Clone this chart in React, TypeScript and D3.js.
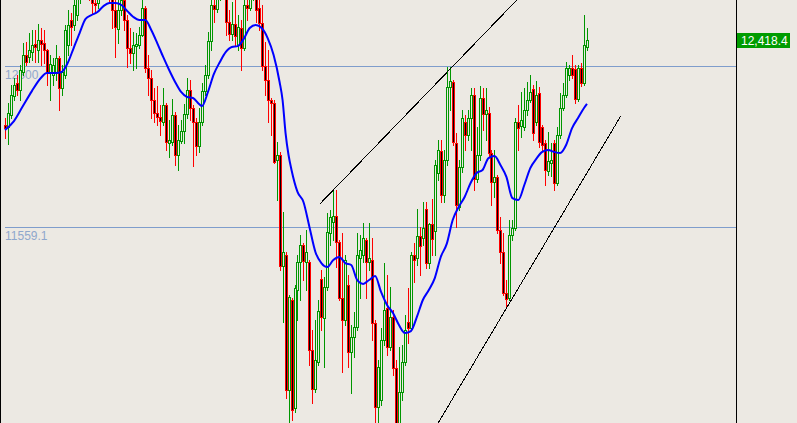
import React from "react";
import * as d3 from "d3";

// ---- Data ----
const openPrices = [
  12029, 12020, 12075, 12162, 12222, 12190, 12273, 12351, 12342, 12365,
  12402, 12374, 12420, 12406, 12374, 12268, 12259, 12268, 12337, 12199,
  12259, 12397, 12512, 12489, 12535, 12627, 12696, 12673, 12742, 12627,
  12590, 12590, 12650, 12719, 12696, 12742, 12627, 12558, 12471, 12558,
  12604, 12512, 12383, 12360, 12392, 12397, 12443, 12567, 12291, 12245,
  12144, 12084, 12066, 12043, 12121, 11946, 11951, 12075, 11891, 11955,
  12001, 12080, 12190, 12107, 12043, 11932, 12043, 12185, 12259, 12415,
  12581, 12563, 12627, 12696, 12641, 12503, 12448, 12494, 12397, 12475,
  12383, 12581, 12567, 12627, 12650, 12567, 12498, 12300, 12236, 12144,
  12130, 11868, 11891, 11380, 11431, 10810, 11224, 10727, 11270, 11399,
  11477, 11399, 11399, 10994, 10815, 10939, 11321, 11141, 11284, 11532,
  11583, 11610, 11491, 11233, 11132, 11293, 10985, 11054, 11100, 11417,
  11431, 11500, 11399, 11408, 11118, 10732, 10764, 11040, 11187, 11008,
  11146, 10911, 10635, 10801, 10939, 11123, 11095, 11431, 11417, 11518,
  11509, 11643, 11394, 11574, 11541, 11808, 11909, 11707, 11868, 12204,
  12227, 11946, 11652, 11836, 12043, 11983, 12061, 12167, 11781, 11891,
  12153, 12080, 12084, 11900, 11767, 11790, 11546, 11445, 11256, 11233,
  11523, 11555, 12043, 12024, 12020, 12098, 12144, 12195, 12043, 12176,
  12020, 11946, 11817, 11854, 11946, 11762, 11983, 12107, 12167, 12259,
  12291, 12287, 12149, 12291, 12222, 12388,
];
const highPrices = [
  12061, 12130, 12213, 12245, 12259, 12305, 12406, 12411, 12452, 12466,
  12466, 12494, 12475, 12466, 12380, 12351, 12337, 12397, 12346, 12305,
  12489, 12558, 12544, 12604, 12673, 12742, 12765, 12788, 12779, 12650,
  12627, 12696, 12765, 12788, 12811, 12779, 12659, 12604, 12604, 12641,
  12641, 12535, 12475, 12457, 12452, 12480, 12604, 12576, 12351, 12282,
  12199, 12208, 12121, 12199, 12130, 12052, 12149, 12089, 12029, 12052,
  12126, 12245, 12236, 12121, 12061, 12107, 12222, 12305, 12457, 12627,
  12618, 12650, 12742, 12742, 12673, 12558, 12595, 12604, 12535, 12512,
  12604, 12604, 12659, 12742, 12696, 12604, 12581, 12411, 12374, 12153,
  12144, 11951, 11905, 11629, 11445, 11247, 11233, 11293, 11431, 11523,
  11486, 11546, 11408, 11086, 11132, 11224, 11362, 11330, 11624, 11638,
  11730, 11730, 11500, 11532, 11431, 11339, 11109, 11169, 11532, 11523,
  11578, 11509, 11578, 11509, 11132, 10948, 11095, 11394, 11339, 11284,
  11178, 10948, 11008, 11017, 11155, 11279, 11445, 11486, 11643, 11560,
  11675, 11675, 11578, 11689, 11868, 11960, 11960, 11914, 12296, 12296,
  12236, 11992, 11868, 12098, 12075, 12098, 12199, 12199, 12020, 12208,
  12199, 12199, 12112, 11914, 11914, 11799, 11606, 11532, 11316, 11592,
  11592, 12061, 12121, 12181, 12199, 12227, 12259, 12213, 12231, 12204,
  12029, 11960, 11997, 11946, 11960, 12020, 12176, 12222, 12319, 12305,
  12351, 12305, 12305, 12314, 12535, 12475,
];
const lowPrices = [
  11969, 11942, 12061, 12144, 12167, 12144, 12259, 12305, 12319, 12328,
  12319, 12319, 12305, 12314, 12213, 12144, 12213, 12236, 12098, 12167,
  12245, 12351, 12397, 12466, 12512, 12590, 12613, 12641, 12604, 12544,
  12544, 12567, 12627, 12641, 12659, 12595, 12475, 12342, 12406, 12535,
  12466, 12296, 12314, 12282, 12291, 12383, 12438, 12273, 12167, 12061,
  12043, 12029, 11983, 12029, 11914, 11882, 11937, 11845, 11822, 11946,
  11946, 12061, 12052, 11840, 11891, 11905, 12029, 12167, 12245, 12374,
  12503, 12549, 12604, 12613, 12443, 12420, 12420, 12397, 12374, 12282,
  12374, 12512, 12558, 12604, 12503, 12466, 12282, 12167, 12043, 11983,
  11855, 11684, 11362, 11123, 10773, 10626, 10672, 10709, 11132, 11224,
  11316, 11270, 10925, 10750, 10801, 10925, 11086, 10916, 11270, 11477,
  11500, 11376, 11224, 10893, 11109, 10916, 10796, 10962, 11086, 11233,
  11399, 11233, 11362, 11040, 10658, 10626, 10741, 11017, 10971, 10994,
  10879, 10580, 10580, 10764, 10925, 11026, 11086, 11307, 11385, 11339,
  11477, 11371, 11371, 11431, 11431, 11776, 11675, 11675, 11845, 12098,
  11937, 11560, 11638, 11813, 11914, 11960, 11914, 11730, 11767, 11868,
  12006, 11960, 11882, 11661, 11698, 11532, 11394, 11247, 11192, 11224,
  11500, 11546, 11914, 11974, 12006, 12075, 12135, 11960, 12029, 11928,
  11914, 11753, 11799, 11794, 11730, 11753, 11969, 12098, 12158, 12236,
  12245, 12130, 12139, 12208, 12213, 12374,
];
const closePrices = [
  12015, 12084, 12167, 12213, 12190, 12282, 12351, 12319, 12374, 12397,
  12388, 12420, 12402, 12374, 12268, 12310, 12305, 12337, 12199, 12273,
  12466, 12489, 12480, 12581, 12627, 12696, 12650, 12742, 12627, 12590,
  12581, 12650, 12719, 12673, 12742, 12627, 12558, 12480, 12558, 12604,
  12512, 12383, 12360, 12397, 12402, 12443, 12567, 12291, 12245, 12144,
  12084, 12066, 12047, 12121, 11951, 11960, 12075, 11891, 11960, 12001,
  12080, 12190, 12107, 12043, 11932, 12043, 12185, 12259, 12415, 12581,
  12563, 12627, 12696, 12641, 12503, 12448, 12494, 12438, 12480, 12383,
  12581, 12567, 12627, 12696, 12558, 12498, 12300, 12236, 12144, 12130,
  11859, 11891, 11380, 11445, 10810, 11238, 10718, 11279, 11399, 11477,
  11403, 11445, 10994, 10815, 10948, 11173, 11146, 11284, 11537, 11606,
  11610, 11491, 11233, 11132, 11408, 10985, 11054, 11100, 11431, 11454,
  11509, 11399, 11417, 11118, 10732, 10916, 11040, 11178, 11008, 11146,
  10911, 10635, 10801, 10939, 11086, 11095, 11431, 11408, 11518, 11472,
  11555, 11394, 11574, 11505, 11845, 11914, 11707, 11868, 12204, 12231,
  11951, 11661, 11836, 12061, 11983, 12061, 12167, 11781, 11891, 12153,
  12080, 12098, 11900, 11767, 11790, 11546, 11445, 11256, 11229, 11523,
  11555, 12043, 12015, 12052, 12098, 12144, 12181, 11992, 12167, 11951,
  11937, 11822, 11863, 11868, 11762, 11983, 12107, 12167, 12291, 12291,
  12259, 12149, 12291, 12222, 12397, 12418.4,
];

// Moving average (blue line), read at bar positions
const maIndex = [
  0, 3, 6, 9, 12, 14, 17, 19, 21, 23, 25, 27, 29, 31, 33, 35, 37, 39, 41, 43,
  45, 47, 49, 51, 53, 55, 57, 59, 61, 63, 65, 66, 68, 70, 72, 74, 76, 78, 80, 82,
  84, 86, 88, 90, 92, 93, 94, 95, 96, 98, 100, 102, 104, 106, 108, 110, 112, 114, 116, 118,
  120, 122, 124, 126, 128, 130, 132, 134, 136, 138, 140, 142, 144, 146, 148, 150, 152, 154, 156, 158,
  160, 162, 164, 166, 168, 170, 172, 174, 176, 178, 180, 182, 184, 186, 188, 190, 192, 194, 195,
];
const maValue = [
  12006, 12047, 12116, 12185, 12245, 12268, 12268, 12273, 12314, 12383,
  12452, 12517, 12535, 12549, 12576, 12590, 12590, 12581, 12553, 12526,
  12512, 12512, 12466, 12406, 12342, 12282, 12227, 12181, 12158, 12153,
  12126, 12116, 12181, 12264, 12319, 12365, 12388, 12392, 12425, 12475,
  12489, 12475, 12429, 12351, 12227, 12144, 11992, 11891, 11822, 11721,
  11675, 11560, 11445, 11394, 11376, 11408, 11422, 11394, 11385, 11316,
  11298, 11316, 11334, 11261, 11201, 11164, 11109, 11072, 11081, 11146,
  11224, 11270, 11325, 11422, 11482, 11592, 11652, 11698, 11762, 11808,
  11822, 11877, 11886, 11845, 11790, 11693, 11684, 11753, 11831, 11873,
  11905, 11914, 11905, 11900, 11937, 12015, 12061, 12107, 12126,
];

// Horizontal levels
const levelValues = [12300, 11559.1];
const levelLabels = ["12300", "11559.1"];

// Trend lines (bar index, price)
const upperTrendIndex = [105.5, 180];
const upperTrendValue = [11666, 12725];
const lowerTrendIndex = [140, 206.3];
const lowerTrendValue = [10540, 12070];

const lastPriceLabel = "12,418.4";

// ---- Layout ----
const W = 797;
const H = 423;
const AXIS_X = 736;
const BG = "#ECE9E3";
const BULL = "#009600";
const BEAR = "#FF0000";

export default function App() {
  const n = closePrices.length;
  const x = d3.scaleLinear().domain([0, n - 1]).range([5, 587]);
  const y = d3.scaleLinear().domain([10658.2, 12604]).range([H, 0]);

  const maLine = d3
    .line<number>()
    .x((_, k) => x(maIndex[k]))
    .y((v) => y(v))
    .curve(d3.curveMonotoneX);

  const trend = (idx: number[], val: number[]) =>
    d3
      .line<number>()
      .x((_, k) => x(idx[k]))
      .y((v) => y(v))(val) || "";

  const lastY = Math.round(y(closePrices[n - 1]));

  return (
    <svg
      width={W}
      height={H}
      style={{ position: "absolute", left: 0, top: 0, display: "block" }}
      fontFamily="'Liberation Sans', Arial, sans-serif"
    >
      <defs>
        <clipPath id="plot">
          <rect x={0} y={0} width={AXIS_X} height={H} />
        </clipPath>
      </defs>
      <rect x={0} y={0} width={W} height={H} fill={BG} />

      <g clipPath="url(#plot)">
        {levelValues.map((v, k) => {
          const ly = Math.round(y(v)) + 0.5;
          return (
            <g key={"lvl" + k}>
              <line x1={5} x2={AXIS_X} y1={ly} y2={ly} stroke="#7F9DCC" strokeWidth={1} shapeRendering="crispEdges" />
              <text x={5} y={ly + 12} fontSize={12} fill="#8FA7CC">
                {levelLabels[k]}
              </text>
            </g>
          );
        })}

        {closePrices.map((c, i) => {
          const o = openPrices[i];
          const bull = c >= o;
          const cx = Math.round(x(i));
          const col = bull ? BULL : BEAR;
          const top = Math.round(y(Math.max(o, c)));
          const bot = Math.round(y(Math.min(o, c)));
          return (
            <g key={"c" + i} shapeRendering="crispEdges">
              <line
                x1={cx + 0.5}
                x2={cx + 0.5}
                y1={Math.round(y(highPrices[i]))}
                y2={Math.round(y(lowPrices[i])) + 1}
                stroke={col}
                strokeWidth={1}
              />
              <rect
                x={cx - 0.5}
                y={top + 0.5}
                width={2}
                height={Math.max(bot - top, 0)}
                fill={bull ? BG : "#000"}
                stroke={col}
                strokeWidth={1}
              />
            </g>
          );
        })}

        <path d={maLine(maValue) || ""} fill="none" stroke="#0000FF" strokeWidth={2} />

        <path d={trend(upperTrendIndex, upperTrendValue)} fill="none" stroke="#000" strokeWidth={1} shapeRendering="crispEdges" />
        <path d={trend(lowerTrendIndex, lowerTrendValue)} fill="none" stroke="#000" strokeWidth={1} shapeRendering="crispEdges" />
      </g>

      <line x1={0.5} x2={0.5} y1={0} y2={H} stroke="#000" strokeWidth={1} shapeRendering="crispEdges" />
      <line x1={AXIS_X + 0.5} x2={AXIS_X + 0.5} y1={0} y2={H} stroke="#000" strokeWidth={1} shapeRendering="crispEdges" />

      <rect x={737} y={lastY - 7} width={53} height={15} fill="#009C00" />
      <text x={741} y={lastY + 5} fontSize={12} fill="#FFFFFF">
        {lastPriceLabel}
      </text>
    </svg>
  );
}
